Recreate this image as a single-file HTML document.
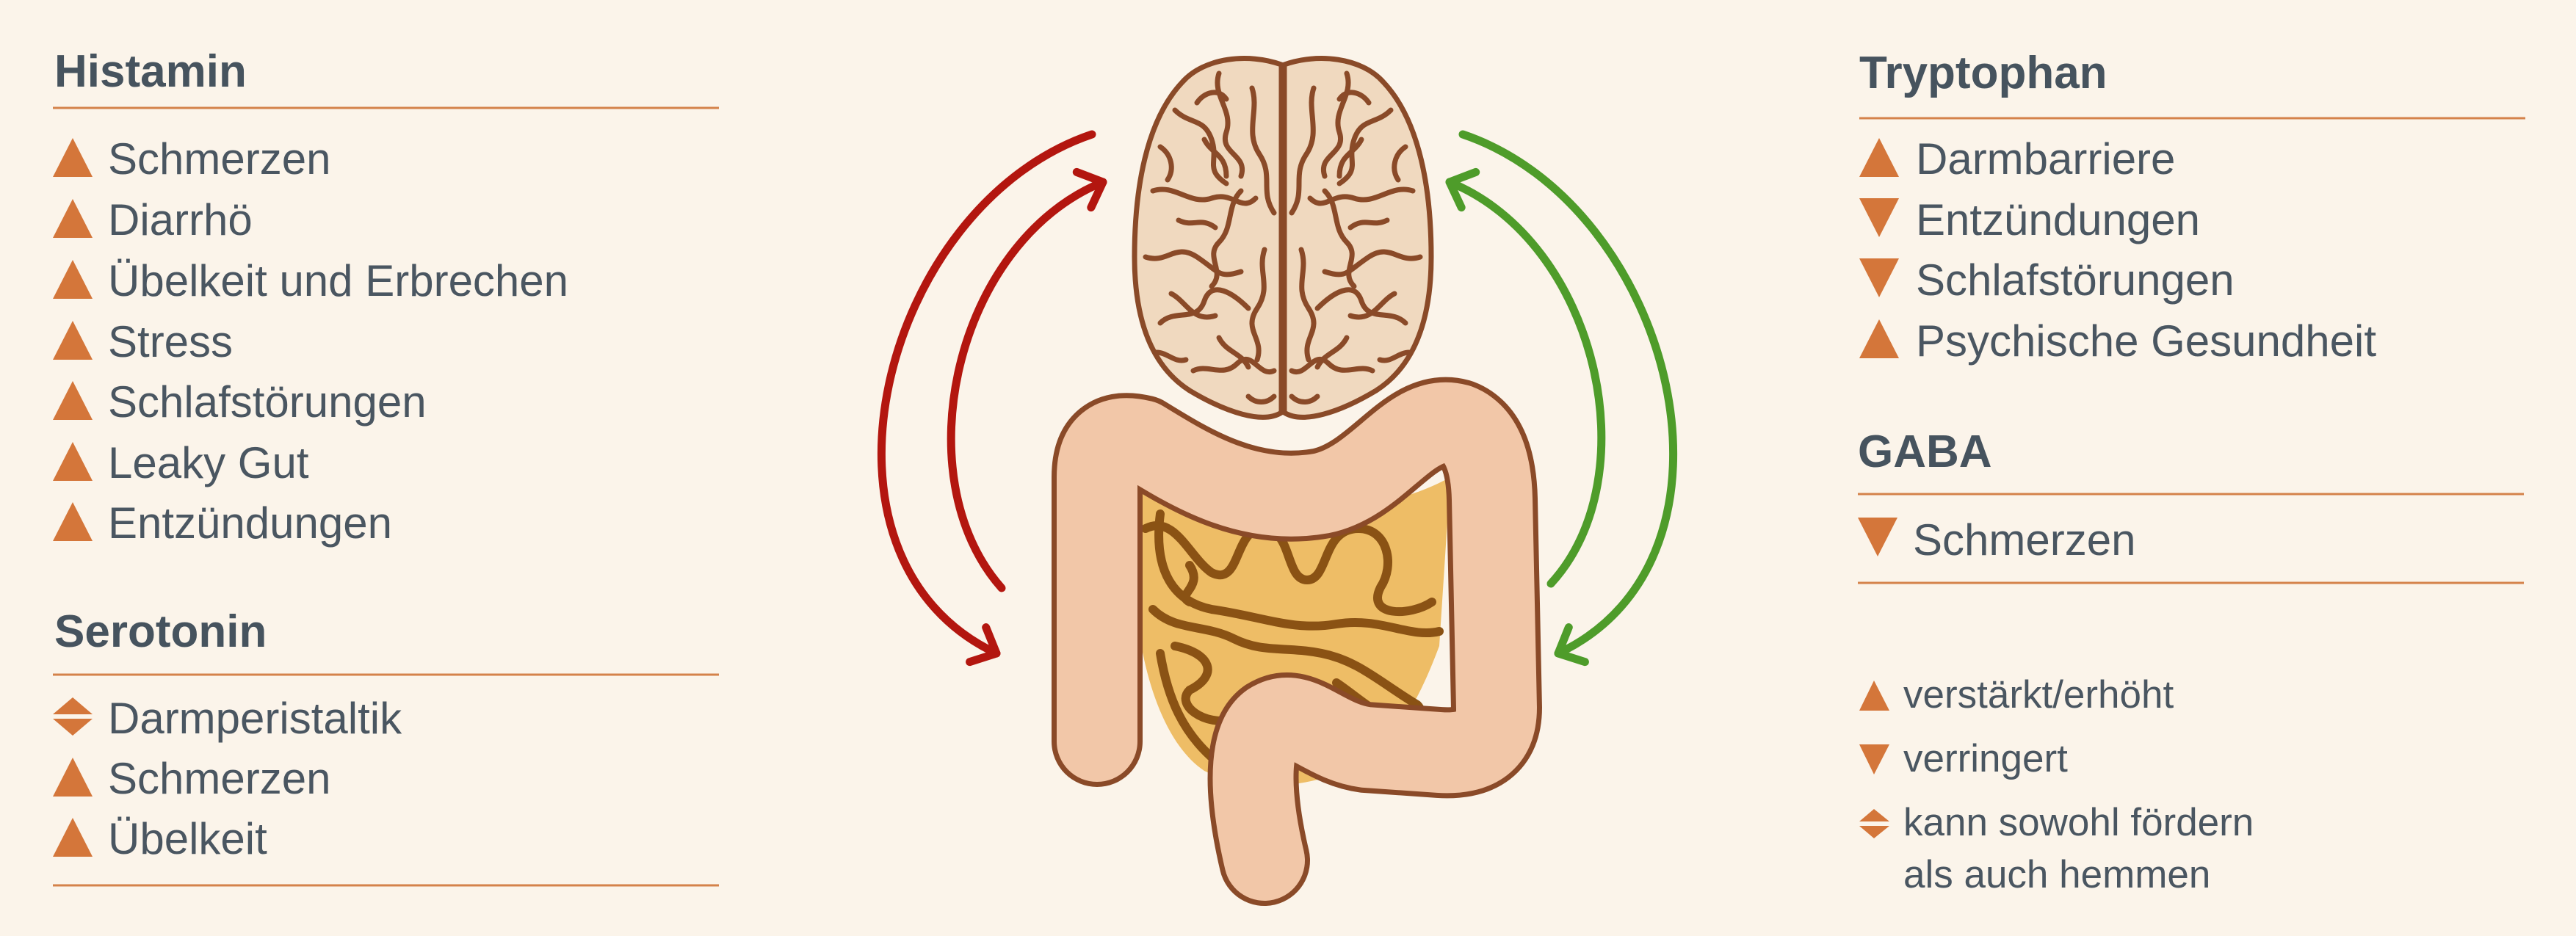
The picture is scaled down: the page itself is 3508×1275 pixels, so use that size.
<!DOCTYPE html>
<html><head><meta charset="utf-8"><style>
html,body{margin:0;padding:0;background:#fbf4ea;}
svg{display:block;}
.h{font-family:"Liberation Sans",sans-serif;font-weight:bold;font-size:62px;fill:#46535e;}
.t{font-family:"Liberation Sans",sans-serif;font-size:60px;fill:#4a5661;}
.l{font-family:"Liberation Sans",sans-serif;font-size:53px;fill:#4a5661;}
.o{fill:#d4763a;}
.ln{stroke:#d4824a;stroke-width:3;}
.g{fill:none;stroke:#8a4a28;stroke-width:7;stroke-linecap:round;}
.si{fill:none;stroke:#8a5214;stroke-width:12;stroke-linecap:round;stroke-linejoin:round;}
</style></head><body>
<svg width="3508" height="1275" viewBox="0 0 3508 1275" xmlns="http://www.w3.org/2000/svg">
<rect width="3508" height="1275" fill="#fbf4ea"/>
<defs>
<marker id="ar" markerUnits="userSpaceOnUse" markerWidth="80" markerHeight="80" refX="40" refY="40" orient="auto" viewBox="0 0 80 80">
<path d="M12 14 L40 40 L12 66" fill="none" stroke="#b3160f" stroke-width="11" stroke-linecap="round" stroke-linejoin="round"/></marker>
<marker id="ag" markerUnits="userSpaceOnUse" markerWidth="80" markerHeight="80" refX="40" refY="40" orient="auto" viewBox="0 0 80 80">
<path d="M12 14 L40 40 L12 66" fill="none" stroke="#4e9c2a" stroke-width="11" stroke-linecap="round" stroke-linejoin="round"/></marker>
</defs>

<!-- LEFT -->
<text class="h" x="74" y="118">Histamin</text>
<line class="ln" x1="72" y1="147" x2="979" y2="147"/>
<g>
<polygon class="o" points="72,241 126,241 99,188"/><text class="t" x="147" y="237">Schmerzen</text>
<polygon class="o" points="72,324 126,324 99,271"/><text class="t" x="147" y="320">Diarrhö</text>
<polygon class="o" points="72,407 126,407 99,354"/><text class="t" x="147" y="403">Übelkeit und Erbrechen</text>
<polygon class="o" points="72,490 126,490 99,437"/><text class="t" x="147" y="486">Stress</text>
<polygon class="o" points="72,572 126,572 99,519"/><text class="t" x="147" y="568">Schlafstörungen</text>
<polygon class="o" points="72,655 126,655 99,602"/><text class="t" x="147" y="651">Leaky Gut</text>
<polygon class="o" points="72,737 126,737 99,684"/><text class="t" x="147" y="733">Entzündungen</text>
</g>
<text class="h" x="74" y="881">Serotonin</text>
<line class="ln" x1="72" y1="919" x2="979" y2="919"/>
<polygon class="o" points="72,973 126,973 99,950"/><polygon class="o" points="72,979 126,979 99,1002"/><text class="t" x="147" y="999">Darmperistaltik</text>
<polygon class="o" points="72,1085 126,1085 99,1032"/><text class="t" x="147" y="1081">Schmerzen</text>
<polygon class="o" points="72,1167 126,1167 99,1114"/><text class="t" x="147" y="1163">Übelkeit</text>
<line class="ln" x1="72" y1="1206" x2="979" y2="1206"/>

<!-- RIGHT -->
<text class="h" x="2532" y="120">Tryptophan</text>
<line class="ln" x1="2532" y1="161" x2="3439" y2="161"/>
<polygon class="o" points="2532,241 2586,241 2559,188"/><text class="t" x="2609" y="237">Darmbarriere</text>
<polygon class="o" points="2532,270 2586,270 2559,323"/><text class="t" x="2609" y="320">Entzündungen</text>
<polygon class="o" points="2532,352 2586,352 2559,405"/><text class="t" x="2609" y="402">Schlafstörungen</text>
<polygon class="o" points="2532,488 2586,488 2559,435"/><text class="t" x="2609" y="485">Psychische Gesundheit</text>
<text class="h" x="2530" y="636">GABA</text>
<line class="ln" x1="2530" y1="673" x2="3437" y2="673"/>
<polygon class="o" points="2530,705 2584,705 2557,758"/><text class="t" x="2605" y="756">Schmerzen</text>
<line class="ln" x1="2530" y1="794" x2="3437" y2="794"/>
<polygon class="o" points="2532,968 2573,968 2552,927"/><text class="l" x="2592" y="964">verstärkt/erhöht</text>
<polygon class="o" points="2532,1014 2573,1014 2552,1055"/><text class="l" x="2592" y="1051">verringert</text>
<polygon class="o" points="2532,1119 2573,1119 2552,1102"/><polygon class="o" points="2532,1125 2573,1125 2552,1142"/>
<text class="l" x="2592" y="1138">kann sowohl fördern</text>
<text class="l" x="2592" y="1209">als auch hemmen</text>

<!-- ARROWS -->
<path d="M1487 183 C1200 280 1080 760 1357 890" fill="none" stroke="#b3160f" stroke-width="11" stroke-linecap="round" marker-end="url(#ar)"/>
<path d="M1364 801 C1230 650 1300 330 1502 248" fill="none" stroke="#b3160f" stroke-width="11" stroke-linecap="round" marker-end="url(#ar)"/>
<path d="M1992 183 C2279 280 2399 760 2122 890" fill="none" stroke="#4e9c2a" stroke-width="11" stroke-linecap="round" marker-end="url(#ag)"/>
<path d="M2112 795 C2246 650 2176 330 1974 248" fill="none" stroke="#4e9c2a" stroke-width="11" stroke-linecap="round" marker-end="url(#ag)"/>

<!-- BRAIN -->
<g id="hemi">
<path d="M1745 88 C1700 72 1640 78 1610 112 C1560 165 1545 260 1545 350 C1545 440 1570 500 1620 532 C1670 562 1720 578 1745 562 Z" fill="#f0d9bf" stroke="#8a4a28" stroke-width="7"/>
<path class="g" d="M1600 150 c20 20 40 10 50 40 s-10 40 20 60"/>
<path class="g" d="M1660 100 c-10 30 20 50 10 80 s30 30 20 60"/>
<path class="g" d="M1570 260 c30 -10 50 20 80 10 s40 20 60 0"/>
<path class="g" d="M1560 350 c30 10 40 -20 70 0 s30 30 60 20"/>
<path class="g" d="M1580 440 c20 -20 50 0 60 -30 s40 -10 60 10"/>
<path class="g" d="M1625 505 c20 -10 40 10 60 -10 s30 20 50 10"/>
<path class="g" d="M1705 120 c10 30 -10 60 10 90 s0 50 20 80"/>
<path class="g" d="M1690 260 c-20 20 -10 50 -30 70 s10 40 -10 60"/>
<path class="g" d="M1722 340 c-10 30 10 50 -10 80 s10 40 0 70"/>
<path class="g" d="M1640 190 c10 20 30 20 30 50"/>
<path class="g" d="M1595 400 c20 10 30 40 60 30"/>
<path class="g" d="M1580 200 c15 10 20 30 10 45"/>
<path class="g" d="M1700 540 c10 10 25 10 35 0"/>
<path class="g" d="M1630 140 c10 -15 30 -20 40 -5"/>
<path class="g" d="M1605 300 c20 10 30 -5 50 10"/>
<path class="g" d="M1660 460 c10 20 30 20 40 40"/>
<path class="g" d="M1575 480 c15 0 25 15 40 10"/>
</g>
<use href="#hemi" transform="translate(3494,0) scale(-1,1)"/>

<!-- SMALL INTESTINE -->
<path d="M1545 660 C1650 700 1850 720 1975 650 L1960 880 C1930 960 1900 1010 1850 1040 C1780 1080 1690 1075 1640 1050 C1580 1010 1550 900 1545 800 Z" fill="#eebd66"/>
<path class="si" d="M1560 720 C1600 700 1620 760 1650 780 C1690 800 1680 720 1720 720 C1760 720 1750 790 1780 790 C1810 790 1800 720 1850 720 C1890 720 1900 770 1880 800 C1860 840 1920 840 1950 820"/>
<path class="si" d="M1580 700 C1570 780 1600 820 1650 830 C1720 840 1760 860 1820 850 C1880 840 1920 870 1960 860"/>
<path class="si" d="M1570 830 C1600 860 1640 850 1680 870 C1720 890 1750 880 1800 890 C1850 900 1880 930 1930 960 C1950 980 1900 1000 1870 990"/>
<path class="si" d="M1600 880 C1650 890 1660 920 1620 940 C1600 960 1640 990 1680 980 C1700 970 1730 950 1760 960"/>
<path class="si" d="M1580 890 C1590 950 1610 1000 1660 1040"/>
<path class="si" d="M1820 930 C1850 950 1880 980 1920 990"/>
<path class="si" d="M1620 770 C1640 800 1600 810 1620 820"/>

<!-- COLON -->
<path d="M1494 1010 L1494 650 Q1494 585 1555 600 C1620 640 1700 690 1800 672 C1880 655 1920 560 1985 578 Q2030 595 2032 680 L2038 965 Q2038 1030 1960 1025 L1860 1018 C1800 1010 1770 960 1730 985 C1695 1010 1705 1100 1722 1172" fill="none" stroke="#8a4a28" stroke-width="124" stroke-linecap="round" stroke-linejoin="round"/>
<path d="M1494 1010 L1494 650 Q1494 585 1555 600 C1620 640 1700 690 1800 672 C1880 655 1920 560 1985 578 Q2030 595 2032 680 L2038 965 Q2038 1030 1960 1025 L1860 1018 C1800 1010 1770 960 1730 985 C1695 1010 1705 1100 1722 1172" fill="none" stroke="#f2c7a8" stroke-width="110" stroke-linecap="round" stroke-linejoin="round"/>
</svg>
</body></html>
